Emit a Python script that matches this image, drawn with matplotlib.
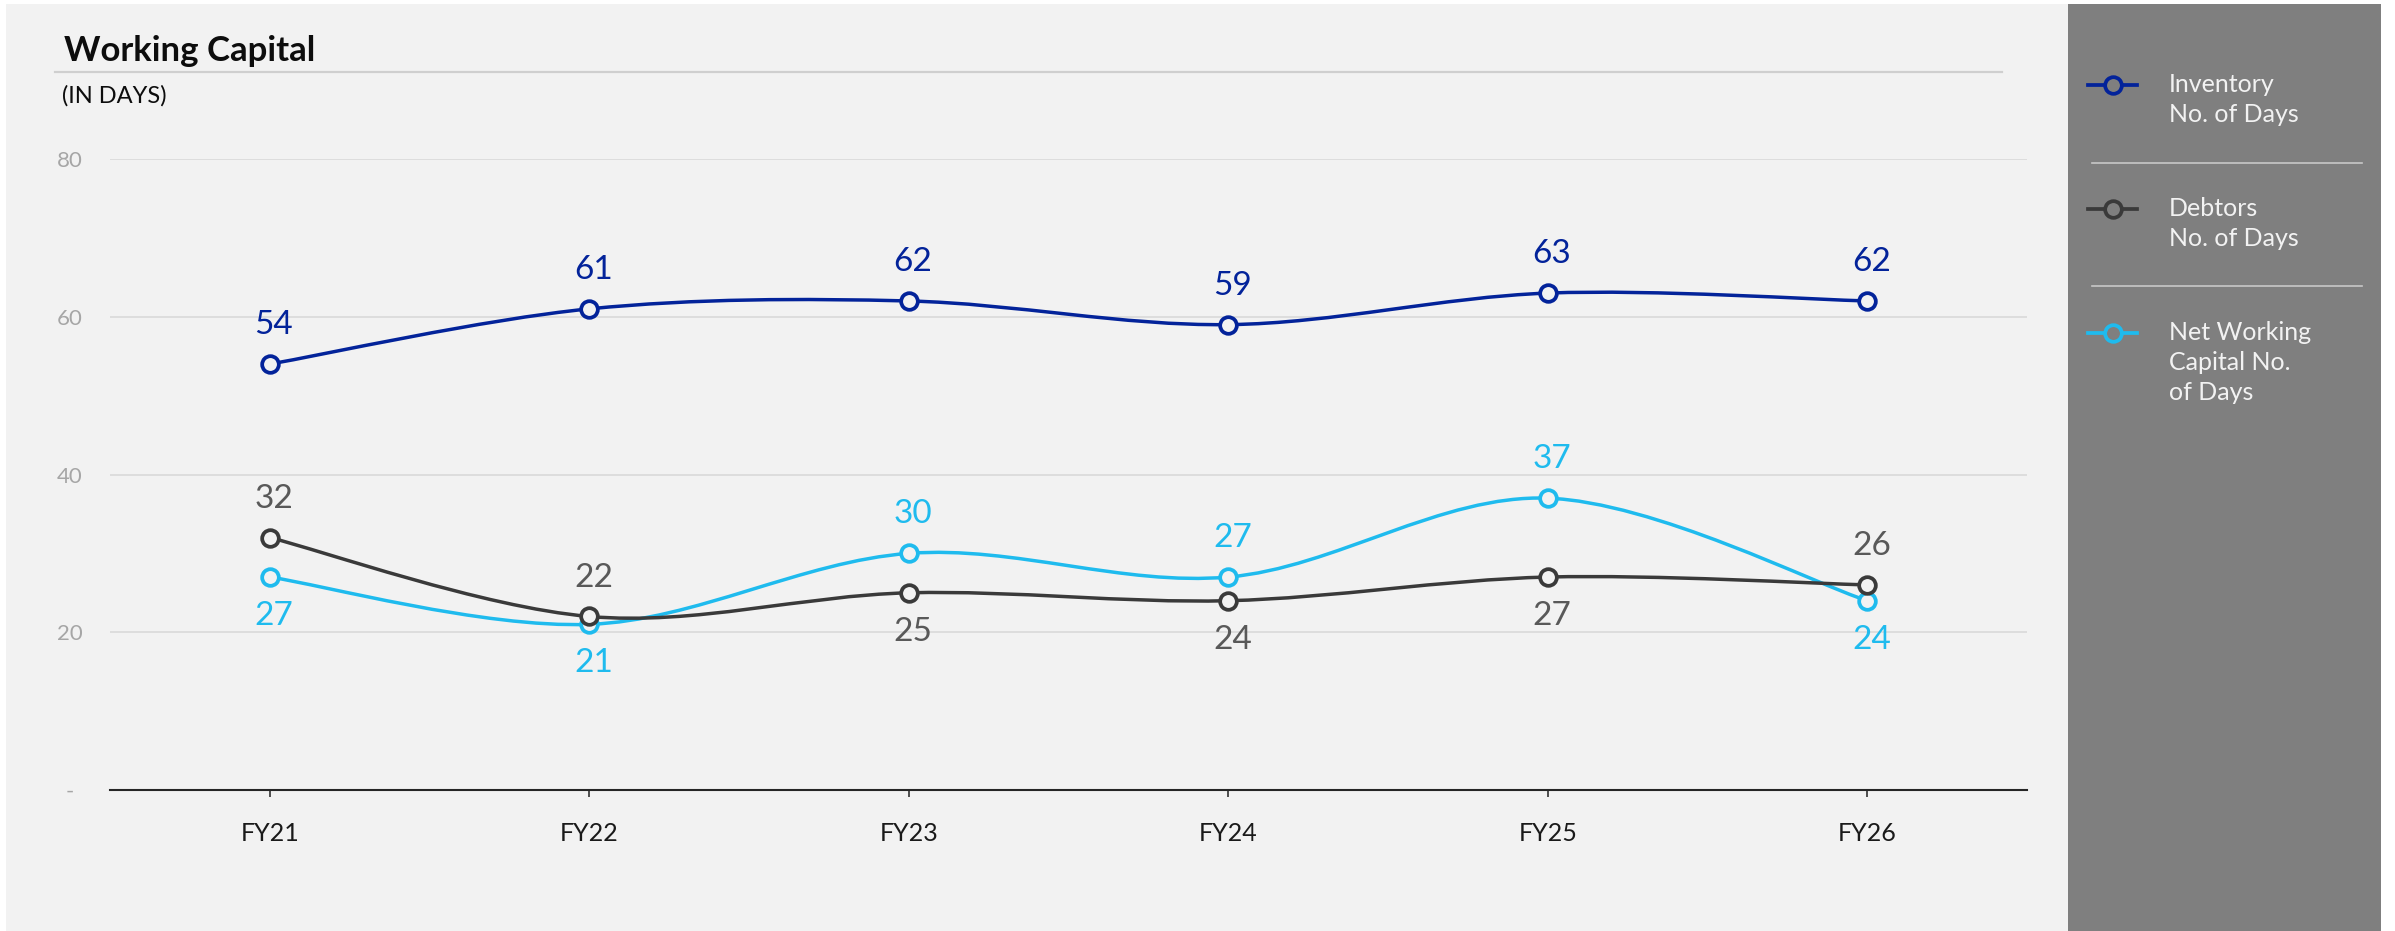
import matplotlib.pyplot as plt
import numpy as np
from matplotlib.path import Path
from matplotlib.patches import PathPatch, Rectangle
from matplotlib.lines import Line2D

plt.rcParams['font.family'] = ['Lato', 'DejaVu Sans']

# data
years = ['FY21', 'FY22', 'FY23', 'FY24', 'FY25', 'FY26']
inventory = [54, 61, 62, 59, 63, 62]
debtors = [32, 22, 25, 24, 27, 26]
net_wc = [27, 21, 30, 27, 37, 24]
y_ticks = [0, 20, 40, 60, 80]
y_tick_labels = ['-', '20', '40', '60', '80']

series_names = [['Inventory', 'No. of Days'],
                ['Debtors', 'No. of Days'],
                ['Net Working', 'Capital No.', 'of Days']]
line_colors = ['#03239a', '#3a3a3a', '#1fbbee']
label_colors = ['#03239a', '#595959', '#1fbbee']
# +1 label above the point, -1 below
label_side = [[1, 1, 1, 1, 1, 1],
              [1, 1, -1, -1, -1, 1],
              [-1, -1, 1, 1, 1, -1]]

W, H = 2395, 931


def fx(px):
    return px / W


def fy(py):
    return 1 - py / H


def smooth_path(xs, ys):
    # bezier smoothing like an office "smoothed line"
    pts = np.column_stack([xs, ys]).astype(float)
    n = len(pts)
    verts = [pts[0]]
    codes = [Path.MOVETO]
    for i in range(n - 1):
        p0 = pts[max(i - 1, 0)]
        p1 = pts[i]
        p2 = pts[i + 1]
        p3 = pts[min(i + 2, n - 1)]
        c1 = p1 + (p2 - p0) / 6.0
        c2 = p2 - (p3 - p1) / 6.0
        verts += [c1, c2, p2]
        codes += [Path.CURVE4] * 3
    return Path(verts, codes)


fig = plt.figure(figsize=(W / 100, H / 100), dpi=100)
fig.patch.set_facecolor('white')

# panels
fig.patches.append(Rectangle((fx(6), 0), fx(2068) - fx(6), fy(4), transform=fig.transFigure,
                             facecolor='#f2f2f2', edgecolor='none', zorder=-10))
fig.patches.append(Rectangle((fx(2068), 0), fx(2381) - fx(2068), fy(4), transform=fig.transFigure,
                             facecolor='#7f7f7f', edgecolor='none', zorder=-10))

# title
fig.text(fx(64), fy(51), 'Working Capital', fontsize=25, fontweight='bold', color='#0d0d0d', va='center')
fig.lines.append(Line2D([fx(55), fx(2002)], [fy(72), fy(72)], transform=fig.transFigure,
                        color='#cfcfcf', lw=1.6))
fig.text(fx(62), fy(96), '(IN DAYS)', fontsize=17, color='#0d0d0d', va='center')

ax = fig.add_axes([fx(110), fy(790), fx(2027) - fx(110), fy(159) - fy(790)])
ax.set_facecolor('none')
x = np.arange(len(years))
ax.set_xlim(-0.5, len(years) - 0.5)
ax.set_ylim(0, 80)

all_series = [inventory, debtors, net_wc]
zorders = [5, 4, 3]
for vals, col, lcol, sides, z in zip(all_series, line_colors, label_colors, label_side, zorders):
    ax.add_patch(PathPatch(smooth_path(x, vals), fill=False, edgecolor=col, lw=2.5, zorder=z))
    ax.plot(x, vals, 'o', ms=12, mfc='#f2f2f2', mec=col, mew=2.7, zorder=z + 0.5)
    for xi, v, s in zip(x, vals, sides):
        ax.annotate(str(v), (xi, v), xytext=(3, 28 * s), textcoords='offset points',
                    ha='center', va='center', fontsize=24, color=lcol, zorder=z + 1)

ax.set_yticks(y_ticks)
ax.set_yticklabels(y_tick_labels)
ax.set_xticks(x)
ax.set_xticklabels(years)
ax.grid(axis='y', color='#d9d9d9', lw=1.2)
ax.set_axisbelow(True)
for sp in ['top', 'right', 'left']:
    ax.spines[sp].set_visible(False)
ax.spines['bottom'].set_color('#262626')
ax.spines['bottom'].set_linewidth(1.5)
ax.tick_params(axis='y', length=0, pad=29, labelsize=16, labelcolor='#a6a6a6')
for t in ax.get_yticklabels():
    t.set_horizontalalignment('center')
ax.tick_params(axis='x', length=5, width=1.3, color='#404040', pad=18, labelsize=18, labelcolor='#1a1a1a')

# legend panel
handle_y = [85, 209, 333]
sep_y = [163, 286]
for name, col, hy in zip(series_names, line_colors, handle_y):
    fig.lines.append(Line2D([fx(2088), fx(2137)], [fy(hy), fy(hy)], transform=fig.transFigure,
                            color=col, lw=2.7))
    fig.lines.append(Line2D([fx(2112.5)], [fy(hy)], transform=fig.transFigure, marker='o', ms=12,
                            mfc='#7f7f7f', mec=col, mew=2.7, linestyle='none'))
    for i, line in enumerate(name):
        fig.text(fx(2169), fy(hy + i * 29.5), line, fontsize=18, color='#f2f2f2', va='center')
for sy in sep_y:
    fig.lines.append(Line2D([fx(2092), fx(2362)], [fy(sy), fy(sy)], transform=fig.transFigure,
                            color='#c8c8c8', lw=1.2))

fig.savefig('out.png', dpi=100, facecolor=fig.get_facecolor())
